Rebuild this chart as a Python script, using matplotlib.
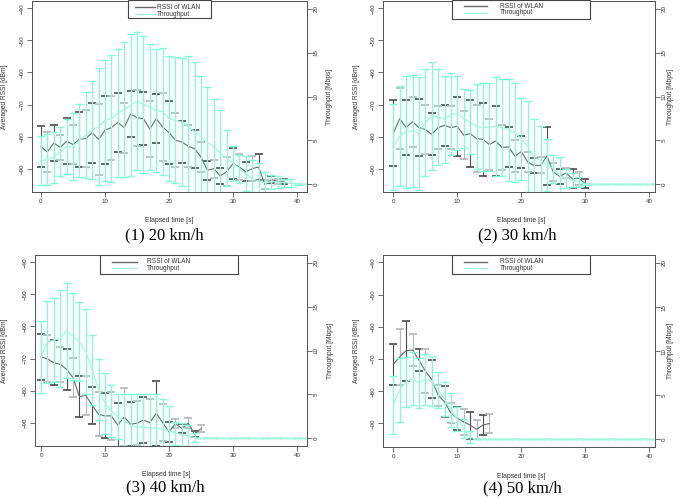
import numpy as np
import matplotlib
matplotlib.use("Agg")
import matplotlib.pyplot as plt
from matplotlib.patches import Rectangle
from matplotlib.lines import Line2D

plt.rcParams['font.family'] = ['Liberation Sans', 'DejaVu Sans']

# ---- data (1 s steps starting at 0 s) ----
# (1) 20 km/h
rssi1_mean = [-83.2, -84.8, -82.0, -83.4, -81.5, -82.5, -80.9, -80.6, -78.8, -80.9,
              -78.0, -77.2, -75.6, -77.2, -73.0, -74.1, -74.4, -77.7, -74.4, -77.0,
              -78.8, -81.1, -81.7, -83.0, -83.8, -86.4, -90.5, -90.0, -92.3, -91.0,
              -88.4, -89.5, -91.0, -90.0, -89.5, -95.0, -93.4, -94.0, -94.0]
rssi1_sd = [6.4, 6.3, 5.7, 3.9, 7.2, 6.2, 8.5, 8.8, 9.4, 11.0,
            10.6, 10.0, 9.3, 7.8, 7.1, 8.7, 8.2, 8.7, 7.7, 10.7,
            9.8, 8.3, 6.4, 6.5, 6.0, 4.8, 3.0, 2.8, 2.5, 4.5,
            4.9, 4.0, 3.0, 4.0, 4.0, 1.5, 1.2, 0.8, 0.8]
tp1_mean = [2.7, 2.8, 3.1, 3.7, 4.3, 4.3, 5.0, 5.6, 6.2, 6.6,
            7.3, 7.5, 8.1, 8.5, 9.0, 9.5, 9.1, 8.8, 8.4, 8.3,
            7.5, 7.3, 7.1, 6.6, 6.0, 5.4, 4.8, 4.3, 3.6, 3.0,
            2.4, 1.8, 1.2, 0.65, 0.4, 0.15, 0.3, 0.27, 0.2, 0.15,
            0.05, 0.0, 0.0]
tp1_sd = [2.8, 2.9, 2.9, 2.8, 3.1, 3.8, 4.2, 4.9, 5.6, 6.7,
          6.9, 7.2, 7.3, 7.7, 8.1, 7.9, 7.8, 7.2, 7.0, 7.2,
          7.1, 7.2, 7.3, 8.0, 8.0, 6.9, 6.3, 5.4, 4.9, 3.2,
          2.0, 1.6, 2.0, 2.1, 2.0, 1.3, 0.8, 0.7, 0.45, 0.5,
          0.1, 0.0, 0.0]

# (2) 30 km/h
rssi2_mean = [-79.0, -74.4, -77.2, -75.4, -77.2, -77.8, -79.3, -77.2, -76.5, -77.2,
              -76.8, -79.6, -79.1, -80.6, -80.9, -82.5, -81.4, -83.4, -83.2, -86.1,
              -84.7, -87.9, -89.0, -89.0, -86.1, -91.1, -92.4, -91.4, -93.2, -93.1,
              -94.6]
rssi2_sd = [10.3, 9.5, 8.5, 7.8, 9.0, 7.6, 6.6, 6.6, 6.5, 6.7,
            9.2, 7.5, 10.4, 10.6, 11.4, 8.0, 10.8, 6.9, 6.3, 5.0,
            5.0, 3.2, 2.3, 2.5, 9.0, 2.7, 2.4, 1.5, 3.0, 2.0,
            1.3]
tp2_mean = [4.3, 5.5, 6.0, 6.1, 5.8, 7.0, 7.8, 7.7, 7.4, 8.0,
            8.1, 7.5, 7.1, 6.6, 6.5, 6.5, 6.6, 6.5, 6.2, 5.9,
            5.2, 4.3, 3.1, 2.7, 2.2, 1.8, 1.0, 0.7, 0.46, 0.27,
            0.08, 0.0, 0.0, 0.0, 0.0, 0.0, 0.0, 0.0, 0.0, 0.0,
            0.0, 0.0, 0.0]
tp2_sd = [4.9, 5.7, 6.4, 6.4, 6.4, 6.1, 6.2, 5.5, 5.0, 4.7,
          4.2, 3.4, 3.6, 4.8, 5.0, 5.0, 5.6, 5.5, 5.8, 5.6,
          4.7, 5.2, 4.3, 3.9, 3.0, 1.6, 2.1, 1.1, 0.8, 0.6,
          0.1, 0.0, 0.0, 0.0, 0.0, 0.0, 0.0, 0.0, 0.0, 0.0,
          0.0, 0.0, 0.0]

# (3) 40 km/h
rssi3_mean = [-69.5, -70.1, -71.3, -71.8, -73.4, -75.9, -81.9, -81.5, -84.6, -87.4,
              -87.9, -87.9, -90.8, -88.2, -90.5, -90.2, -89.2, -90.0, -87.1, -90.0,
              -92.9, -90.3, -91.8, -90.2, -93.6, -91.9]
rssi3_sd = [7.1, 7.3, 7.0, 5.4, 6.4, 6.0, 6.5, 6.0, 5.7, 6.8,
            7.0, 7.6, 7.0, 9.1, 6.9, 6.9, 7.3, 7.5, 10.1, 5.7,
            3.0, 1.5, 1.5, 1.5, 1.0, 1.0]
tp3_mean = [9.3, 11.0, 11.2, 11.4, 12.3, 11.6, 11.0, 9.9, 7.8, 5.6,
            4.0, 3.1, 2.5, 2.0, 1.5, 1.3, 1.3, 1.2, 1.2, 1.0,
            0.9, 0.6, 0.45, 0.26, 0.08, 0.0, 0.0, 0.0, 0.0, 0.0,
            0.0, 0.0, 0.0, 0.0, 0.0, 0.0, 0.0, 0.0, 0.0, 0.0,
            0.0, 0.0, 0.0]
tp3_sd = [4.1, 4.7, 4.8, 5.5, 5.4, 5.0, 4.5, 4.9, 4.0, 3.5,
          3.5, 3.0, 2.6, 3.0, 3.5, 3.7, 3.7, 3.8, 3.8, 3.5,
          2.8, 1.3, 1.3, 1.3, 0.5, 0.0, 0.0, 0.0, 0.0, 0.0,
          0.0, 0.0, 0.0, 0.0, 0.0, 0.0, 0.0, 0.0, 0.0, 0.0,
          0.0, 0.0, 0.0]

# (4) 50 km/h
rssi4_mean = [-71.6, -69.3, -67.4, -67.2, -70.3, -73.7, -76.3, -81.2, -83.3, -86.7,
              -88.4, -89.5, -90.5, -91.8, -90.5, -90.0]
rssi4_sd = [6.4, 8.6, 9.3, 5.1, 3.5, 6.9, 5.9, 3.3, 4.8, 3.0,
            3.5, 4.0, 4.2, 3.0, 3.0, 3.0]
tp4_mean = [3.9, 5.6, 6.5, 6.9, 6.4, 6.8, 6.6, 5.6, 4.6, 3.3,
            2.3, 1.2, 0.26, 0.0, 0.0, 0.0, 0.0, 0.0, 0.0, 0.0,
            0.0, 0.0, 0.0, 0.0, 0.0, 0.0, 0.0, 0.0, 0.0, 0.0,
            0.0, 0.0, 0.0, 0.0, 0.0, 0.0, 0.0, 0.0, 0.0, 0.0,
            0.0, 0.0, 0.0]
tp4_sd = [3.3, 3.6, 2.8, 3.0, 2.8, 2.9, 2.8, 2.0, 1.9, 1.9,
          1.4, 1.1, 0.7, 0.0, 0.0, 0.0, 0.0, 0.0, 0.0, 0.0,
          0.0, 0.0, 0.0, 0.0, 0.0, 0.0, 0.0, 0.0, 0.0, 0.0,
          0.0, 0.0, 0.0, 0.0, 0.0, 0.0, 0.0, 0.0, 0.0, 0.0,
          0.0, 0.0, 0.0]

captions = ["(1) 20 km/h", "(2) 30 km/h", "(3) 40 km/h", "(4) 50 km/h"]
x_ticks = [0, 10, 20, 30, 40]
rssi_ticks = [-40, -50, -60, -70, -80, -90]
tp_ticks = [0, 5, 10, 15, 20]
legend_labels = ["RSSI of WLAN", "Throughput"]

# ---- layout (pixels of the 685x499 picture) ----
W, H = 685, 499
AXC = '#555555'
GREY_D, GREY_L = '#4a4a4a', '#b5b5b5'
AQUA, AQUA_LINE = '#7fffd4', '#a6f6da'

panels = [
    dict(box=(32, 1, 307, 192), x0=41.0, ylab=(5, 330), xl=(169, 220), cap=(164, 235),
         leg=(128, 0, 211, 18, 135, 155, 157, 7.3, 14.0)),
    dict(box=(383, 1, 655, 192), x0=393.3, ylab=(356, 671), xl=(521, 220), cap=(517, 235),
         leg=(452, 0, 590, 19, 464, 487, 500, 6.0, 12.7)),
    dict(box=(35, 255, 307, 446), x0=41.0, ylab=(5, 330), xl=(166, 475), cap=(165, 487),
         leg=(100, 255, 238, 274, 112, 137, 147, 261.7, 268.3)),
    dict(box=(383, 255, 655, 447), x0=393.3, ylab=(356, 671), xl=(521, 476), cap=(522, 488),
         leg=(452, 255, 590, 274, 464, 487, 500, 261.7, 268.3)),
]
data = [(rssi1_mean, rssi1_sd, tp1_mean, tp1_sd),
        (rssi2_mean, rssi2_sd, tp2_mean, tp2_sd),
        (rssi3_mean, rssi3_sd, tp3_mean, tp3_sd),
        (rssi4_mean, rssi4_sd, tp4_mean, tp4_sd)]

fig = plt.figure(figsize=(6.85, 4.99), dpi=100)


def fx(x):
    return x / W


def fy(y):
    return 1 - y / H


for p, (rm, rs, tm, ts), cap in zip(panels, data, captions):
    l, t, r, b = p['box']
    ax = fig.add_axes([fx(l), fy(b), (r - l) / W, (b - t) / H])
    ax2 = ax.twinx()

    tr = np.arange(len(rm))
    rm = np.array(rm)
    rs = np.array(rs)
    for s, col in ((0, GREY_D), (1, GREY_L)):
        ax.errorbar(tr[s::2], rm[s::2], yerr=rs[s::2], fmt='none', ecolor=col,
                    elinewidth=0.8, capsize=3.0, capthick=1.2)
    ax.plot(tr, rm, color='#6a6a6a', lw=0.8)

    tt = np.arange(len(tm))
    ax2.errorbar(tt, tm, yerr=ts, fmt='none', ecolor=AQUA,
                 elinewidth=0.9, capsize=3.0, capthick=1.0)
    ax2.plot(tt, tm, color=AQUA_LINE, lw=0.9)

    # axis ranges from the pixel geometry (6.4 px per second)
    ax.set_xlim((l - p['x0']) / 6.4, (r - p['x0']) / 6.4)
    ax.set_ylim(-97.3, -37.7)
    ax2.set_ylim(-0.87, 20.9)

    ax.set_xticks(x_ticks)
    ax.set_yticks(rssi_ticks)
    ax2.set_yticks(tp_ticks)
    for a in (ax, ax2):
        a.tick_params(direction='out', length=3.5, width=0.6, color=AXC,
                      labelsize=4.5, labelcolor='#333333', pad=1.5)
        for sp in a.spines.values():
            sp.set_color(AXC)
            sp.set_linewidth(0.7)
    ax.tick_params(axis='y', labelrotation=90)
    ax2.tick_params(axis='y', labelrotation=90)
    for lbl in ax.get_yticklabels() + ax2.get_yticklabels():
        lbl.set_verticalalignment('center')

    ax.set_ylabel("Averaged RSSI [dBm]", fontsize=4.8, color='#333333', va='center')
    ax.yaxis.set_label_coords((p['ylab'][0] - l) / (r - l), 0.5)
    ax2.set_ylabel("Throughput [Mbps]", fontsize=4.8, color='#333333', rotation=90,
                   va='center')
    ax2.yaxis.set_label_coords((p['ylab'][1] - l) / (r - l), 0.5)

    fig.text(fx(p['xl'][0]), fy(p['xl'][1]), "Elapsed time [s]", fontsize=4.9,
             color='#333333', ha='center', va='center')
    fig.text(fx(p['cap'][0]), fy(p['cap'][1]), cap, fontsize=12,
             family='Liberation Serif', ha='center', va='center')

    # legend box
    bx0, by0, bx1, by1, hx0, hx1, txx, ry1, ry2 = p['leg']
    fig.add_artist(Rectangle((fx(bx0), fy(by1)), (bx1 - bx0) / W, (by1 - by0) / H,
                             transform=fig.transFigure, facecolor='white',
                             edgecolor='#444444', lw=0.8, zorder=5))
    for (ry, col, lab) in ((ry1, '#6a6a6a', legend_labels[0]),
                           (ry2, AQUA_LINE, legend_labels[1])):
        fig.add_artist(Line2D([fx(hx0), fx(hx1)], [fy(ry), fy(ry)], color=col, lw=1.0,
                              transform=fig.transFigure, zorder=6))
        fig.text(fx(txx), fy(ry), lab, fontsize=4.7, color='#333333',
                 ha='left', va='center', zorder=6)

fig.savefig("out.png", dpi=100)
